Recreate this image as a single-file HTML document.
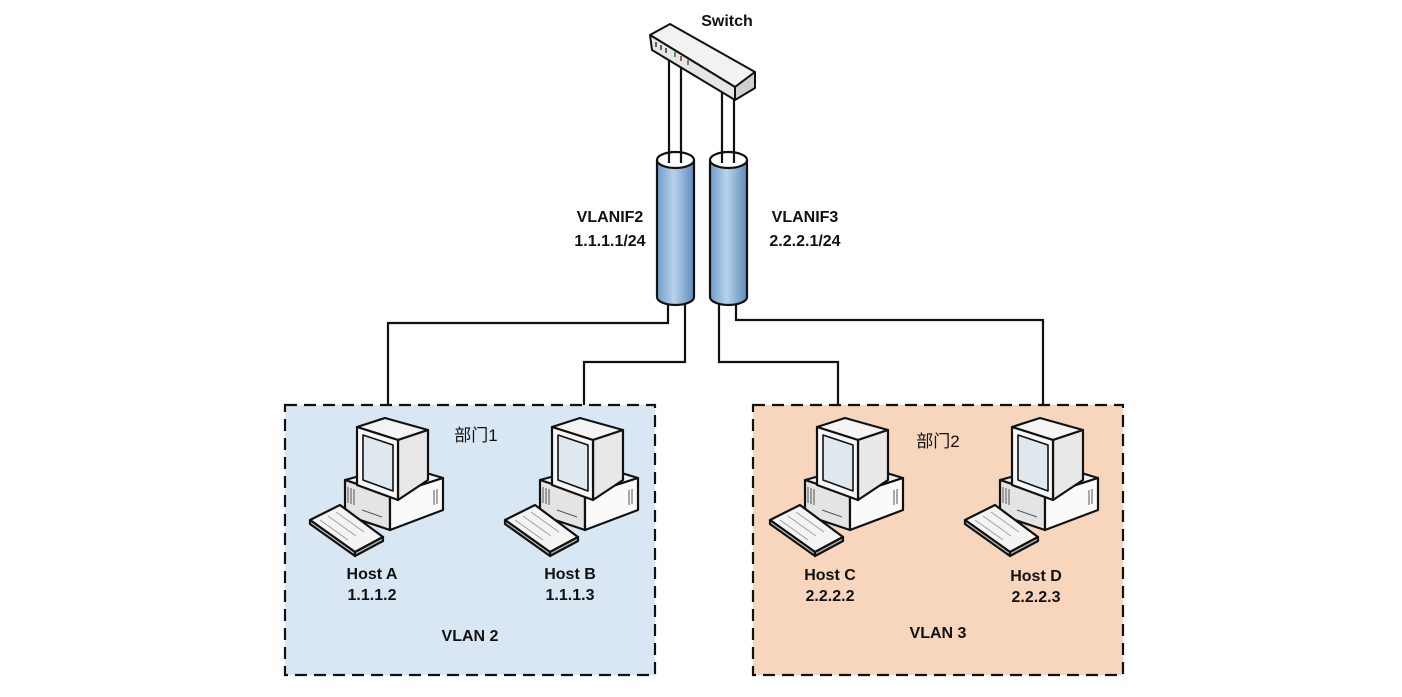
<!DOCTYPE html>
<html><head><meta charset="utf-8"><style>
html,body{margin:0;padding:0;background:#fff;}
svg text{font-family:"Liberation Sans","Noto Sans CJK SC",sans-serif;font-weight:bold;font-size:16px;fill:#111;}
</style></head><body>
<svg width="1402" height="692" viewBox="0 0 1402 692" xmlns="http://www.w3.org/2000/svg">
<defs>
<linearGradient id="cyl" x1="0" x2="1" y1="0" y2="0">
<stop offset="0" stop-color="#6f9cc9"/><stop offset="0.45" stop-color="#b9d2ea"/><stop offset="1" stop-color="#5d8bbb"/>
</linearGradient>
<g id="pc" stroke="#111" stroke-width="2.2" stroke-linejoin="round">
<polygon points="35,55 90,40 133,53 80,70" fill="#f2f2f2"/>
<polygon points="35,55 80,70 80,105 35,90" fill="#e4e4e4"/>
<polygon points="80,70 133,53 133,85 80,105" fill="#fafafa"/>
<polygon points="47,2 75,-7 118,5 88,15" fill="#f4f4f4"/>
<polygon points="88,15 118,5 118,55 88,75" fill="#e8e8e8"/>
<polygon points="47,2 88,15 88,75 47,60" fill="#f7f7f7"/>
<polygon points="53,10 83,20 83,66 53,55" fill="#dfe7ef" stroke-width="1.6"/>
<polygon points="0,95 30,80 73,112 45,127" fill="#f4f4f4"/>
<polygon points="0,95 45,127 45,131 0,99" fill="#ccc"/>
<polygon points="45,127 73,112 73,116 45,131" fill="#bbb"/>
<g stroke="#999" stroke-width="0.8" fill="none">
<line x1="10" y1="95" x2="38" y2="115"/><line x1="18" y1="91" x2="46" y2="111"/><line x1="26" y1="87" x2="54" y2="107"/>
</g>
<g stroke="#555" stroke-width="1" fill="none">
<line x1="38" y1="62" x2="38" y2="78"/><line x1="41" y1="63" x2="41" y2="79"/><line x1="44" y1="64" x2="44" y2="80"/>
<line x1="52" y1="85" x2="72" y2="92"/><line x1="124" y1="65" x2="124" y2="80"/><line x1="127" y1="64" x2="127" y2="79"/>
</g>
</g>
</defs>

<rect x="285" y="405" width="370" height="270" fill="#d9e7f5" stroke="#111" stroke-width="2.2" stroke-dasharray="12,7"/>
<rect x="753" y="405" width="370" height="270" fill="#f8d6bd" stroke="#111" stroke-width="2.2" stroke-dasharray="12,7"/>

<g fill="none" stroke="#111" stroke-width="2.2">
<polyline points="668,300 668,323 388,323 388,405"/>
<polyline points="685,300 685,362 584,362 584,405"/>
<polyline points="719,300 719,362 838,362 838,405"/>
<polyline points="736,300 736,320 1043,320 1043,405"/>
<line x1="669" y1="60" x2="669" y2="160"/><line x1="681" y1="64" x2="681" y2="160"/>
<line x1="722" y1="90" x2="722" y2="160"/><line x1="734" y1="96" x2="734" y2="160"/>
</g>

<g stroke="#111" stroke-width="2" stroke-linejoin="round">
<polygon points="650,35 670,24 755,72 735,87" fill="#f2f2f2"/>
<polygon points="650,35 735,87 735,100 652,50" fill="#e6e6e6"/>
<polygon points="735,87 755,72 755,88 735,100" fill="#cfcfcf"/>
</g>
<g stroke="#333" stroke-width="1.5"><line x1="656" y1="42" x2="656" y2="47"/><line x1="661" y1="45" x2="661" y2="50"/><line x1="666" y1="48" x2="666" y2="53"/></g>
<g stroke="#2a7a2a" stroke-width="1.5"><line x1="675" y1="52" x2="675" y2="57"/><line x1="688" y1="60" x2="688" y2="65"/></g>
<g stroke="#8a2a2a" stroke-width="1.5"><line x1="681" y1="56" x2="681" y2="61"/></g>

<g stroke="#111" stroke-width="2.2">
<path d="M657,160 L657,297 A18.5,8 0 0 0 694,297 L694,160" fill="url(#cyl)"/>
<ellipse cx="675.5" cy="160" rx="18.5" ry="8" fill="#fff"/>
<path d="M710,160 L710,297 A18.5,8 0 0 0 747,297 L747,160" fill="url(#cyl)"/>
<ellipse cx="728.5" cy="160" rx="18.5" ry="8" fill="#fff"/>
</g>
<g stroke="#111" stroke-width="2.2"><line x1="669" y1="152" x2="669" y2="163"/><line x1="681" y1="152" x2="681" y2="163"/><line x1="722" y1="152" x2="722" y2="163"/><line x1="734" y1="152" x2="734" y2="163"/></g>

<use href="#pc" x="310" y="425"/>
<use href="#pc" x="505" y="425"/>
<use href="#pc" x="770" y="425"/>
<use href="#pc" x="965" y="425"/>

<g text-anchor="middle">
<text x="727" y="26">Switch</text>
<text x="610" y="222">VLANIF2</text>
<text x="610" y="246">1.1.1.1/24</text>
<text x="805" y="222">VLANIF3</text>
<text x="805" y="246">2.2.2.1/24</text>
<text x="372" y="579">Host A</text>
<text x="372" y="600">1.1.1.2</text>
<text x="570" y="579">Host B</text>
<text x="570" y="600">1.1.1.3</text>
<text x="830" y="580">Host C</text>
<text x="830" y="601">2.2.2.2</text>
<text x="1036" y="581">Host D</text>
<text x="1036" y="602">2.2.2.3</text>
<text x="470" y="641">VLAN 2</text>
<text x="938" y="638">VLAN 3</text>
<text x="476" y="441" style="font-weight:normal;font-size:17px">部门1</text>
<text x="938" y="447" style="font-weight:normal;font-size:17px">部门2</text>
</g>
</svg>
</body></html>
